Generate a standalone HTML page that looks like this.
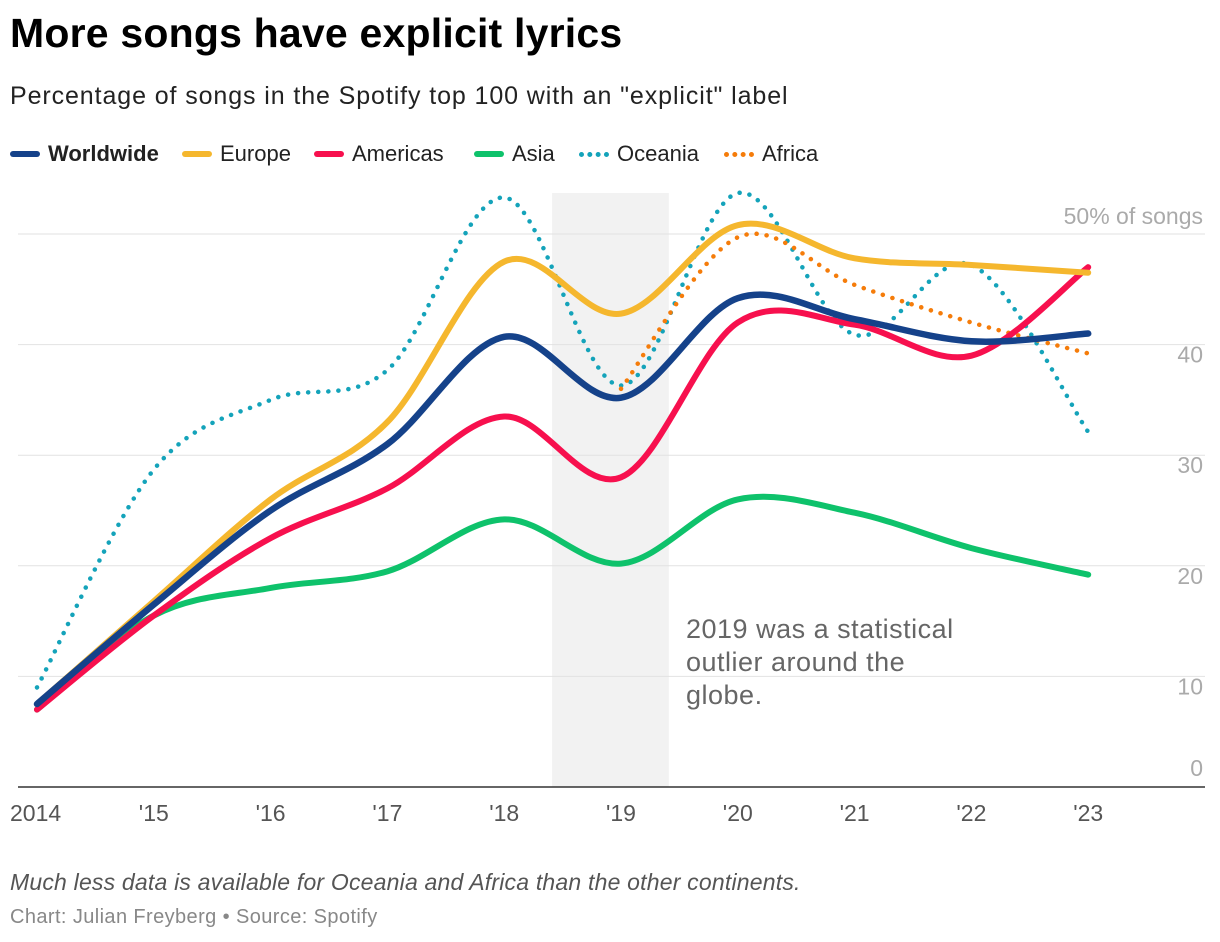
<!DOCTYPE html>
<html><head><meta charset="utf-8">
<style>
body{margin:0;background:#fff;width:1220px;height:942px;overflow:hidden;font-family:"Liberation Sans",Arial,sans-serif;}
#title{position:absolute;left:10px;top:10px;font-size:41px;font-weight:bold;color:#000;letter-spacing:0.2px}
#sub{position:absolute;left:10px;top:82px;font-size:25px;color:#222;letter-spacing:0.9px}
.le{position:absolute;top:141px;font-size:22px;color:#222;display:flex;align-items:center;white-space:nowrap}
.sw{width:30px;height:0;border-top:6px solid;border-radius:3px;margin-right:8px}
.dot{width:30px;height:0;border-top:5px dotted;margin-right:8px}
#note{position:absolute;left:10px;top:869px;font-size:23px;font-style:italic;color:#555;letter-spacing:0.2px}
#src{position:absolute;left:10px;top:906px;font-size:20px;color:#888;letter-spacing:0.4px}
</style></head><body>
<div id="title">More songs have explicit lyrics</div>
<div id="sub">Percentage of songs in the Spotify top 100 with an "explicit" label</div>
<div class="le" style="left:10px"><span class="sw" style="border-color:#15428a"></span><b>Worldwide</b></div>
<div class="le" style="left:182px"><span class="sw" style="border-color:#f5b72e"></span>Europe</div>
<div class="le" style="left:314px"><span class="sw" style="border-color:#f7104e"></span>Americas</div>
<div class="le" style="left:474px"><span class="sw" style="border-color:#0ec26b"></span>Asia</div>
<div class="le" style="left:579px"><span class="dot" style="border-color:#14a3ba"></span>Oceania</div>
<div class="le" style="left:724px"><span class="dot" style="border-color:#f57c0a"></span>Africa</div>
<svg id="chart" width="1220" height="942" style="position:absolute;left:0;top:0"></svg>
<div id="note">Much less data is available for Oceania and Africa than the other continents.</div>
<div id="src">Chart: Julian Freyberg • Source: Spotify</div>
<script>
const years=[2014,2015,2016,2017,2018,2019,2020,2021,2022,2023];
const xLabels=["2014","'15","'16","'17","'18","'19","'20","'21","'22","'23"];
const yTicks=[0,10,20,30,40,50];
const worldwide=[7.5,16.5,25,31,40.7,35.2,44.2,42.3,40.3,41];
const europe=[7.5,16.8,26,33,47.5,42.8,50.8,47.8,47.2,46.5];
const americas=[7,15.5,22.5,27,33.5,28,42,41.8,39,47];
const asia=[7,15.5,18,19.5,24.2,20.2,26,24.8,21.6,19.2];
const oceania=[9,28.7,35,37.7,53.3,36.3,53.7,40.9,47.2,32.1];
const africa=[null,null,null,null,null,36,49.7,45.4,42,39.2];
const NS="http://www.w3.org/2000/svg";
const svg=document.getElementById('chart');
const x=v=>37+(v-2014)*116.8;
const y=v=>787-v*11.06;
function mk(t,a){const e=document.createElementNS(NS,t);for(const k in a)e.setAttribute(k,a[k]);svg.appendChild(e);return e;}
const band=mk('rect',{x:x(2018.41),y:193,width:x(2019.41)-x(2018.41),height:594,fill:'#f2f2f2'});


yTicks.forEach(t=>{
  if(t>0){const g=mk('line',{x1:18,x2:1205,y1:y(t),y2:y(t),stroke:'#e2e2e2','stroke-width':1});
  
  }
  const ly=t==50?y(t)-10:(t==0?y(t)-11:y(t)+18);
  const lb=mk('text',{x:1203,y:ly,'text-anchor':'end','font-size':23,fill:'#aaa'});
  lb.textContent=t==50?'50% of songs':String(t);
  
  
});
const ax=mk('line',{x1:18,x2:1205,y1:787,y2:787,stroke:'#333','stroke-width':1.5});


years.forEach((yr,i)=>{
  const t=mk('text',{x:i==0?10:x(yr),y:821,'text-anchor':i==0?'start':'middle','font-size':23,fill:'#555'});
  t.textContent=xLabels[i];
  
  
});
const ann=mk('text',{x:686,y:638,'font-size':27,fill:'#666','letter-spacing':0.5});


['2019 was a statistical','outlier around the','globe.'].forEach((s,i)=>{const ts=document.createElementNS(NS,'tspan');ts.setAttribute('x',686);ts.setAttribute('dy',i?33:0);ts.textContent=s;ann.appendChild(ts);});
function path(vals){
  const p=[];vals.forEach((v,i)=>{if(v!=null)p.push([x(years[i]),y(v)]);});
  let d='M'+p[0][0]+','+p[0][1];
  for(let i=0;i<p.length-1;i++){
    const p0=p[i-1]||p[i],p1=p[i],p2=p[i+1],p3=p[i+2]||p2;
    const c1=[p1[0]+(p2[0]-p0[0])/6,p1[1]+(p2[1]-p0[1])/6];
    const c2=[p2[0]-(p3[0]-p1[0])/6,p2[1]-(p3[1]-p1[1])/6];
    d+=`C${c1[0]},${c1[1]} ${c2[0]},${c2[1]} ${p2[0]},${p2[1]}`;
  }
  return d;
}
const series=[
 ['oceania',oceania,'#14a3ba',4.5,true],
 ['africa',africa,'#f57c0a',4.5,true],
 ['asia',asia,'#0ec26b',6,false],
 ['americas',americas,'#f7104e',6,false],
 ['europe',europe,'#f5b72e',6,false],
 ['worldwide',worldwide,'#15428a',6.5,false]];
series.forEach(([n,v,c,w,dot])=>{
  const a={d:path(v),fill:'none',stroke:c,'stroke-width':w,'stroke-linecap':'round'};
  if(dot)a['stroke-dasharray']='0.1 10';
  const e=mk('path',a);
  
  
});
</script>
</body></html>
